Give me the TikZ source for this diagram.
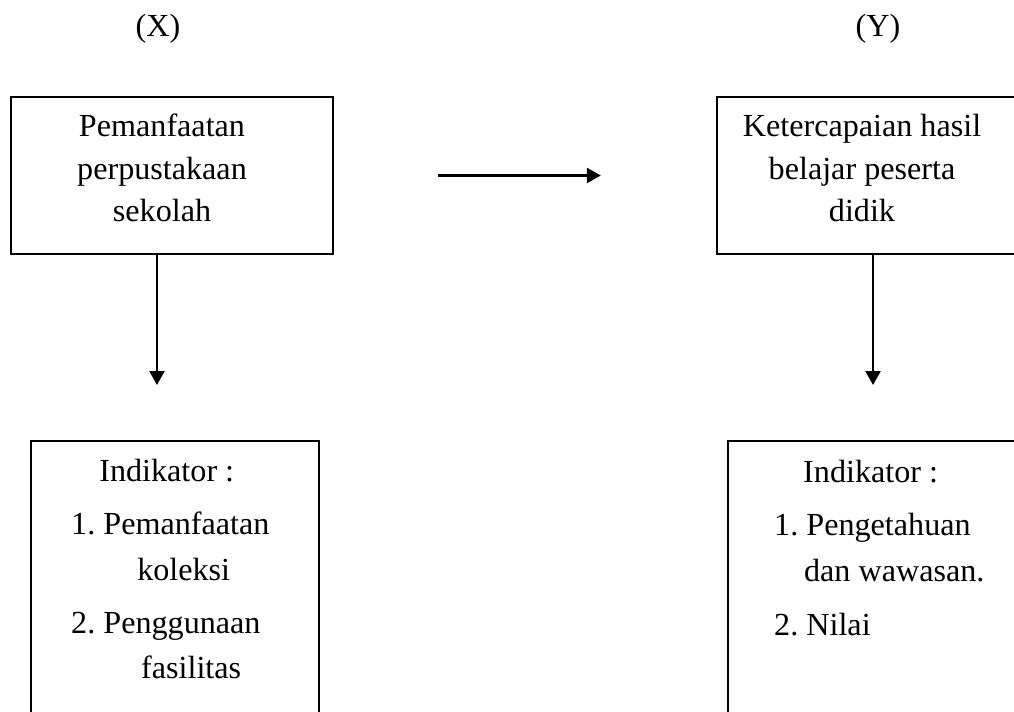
\documentclass[tikz,border=0pt]{standalone}
\usepackage{fontspec}
\setmainfont{Liberation Serif}
\frenchspacing
\usetikzlibrary{arrows.meta}

\begin{document}
\begin{tikzpicture}[x=0.02cm,y=-0.02cm,line width=1.4pt,
  every node/.style={font=\fontsize{18.3}{24.2}\selectfont,inner sep=0pt},
  kotak/.style={draw,line width=1.4pt},
  panah/.style={-{Triangle[length=0.28cm,width=0.3cm]},line width=1.4pt}]
\useasboundingbox (0,0) rectangle (1014,712);
\clip (0,0) rectangle (1014,712);

\node (X) [anchor=base] at (158,37) {(X)};
\node (Y) [anchor=base] at (878,37) {(Y)};

\node (kiri)[kotak,minimum width=6.44cm,minimum height=3.14cm] at (172,175.5) {};
\node (kanan)[kotak,minimum width=6.46cm,minimum height=3.14cm] at (878.5,175.5) {};
\node (indkiri)[kotak,minimum width=5.76cm,minimum height=6.38cm] at (175,600.5) {};
\node (indkanan)[kotak,minimum width=6.44cm,minimum height=6.38cm] at (889,600.5) {};

% base = baseline of the last line
\node (tkiri)[anchor=base,align=center] at (162,222) {Pemanfaatan\\perpustakaan\\sekolah};
\node (tkanan)[anchor=base,align=center] at (862,222) {Ketercapaian hasil\\belajar peserta\\didik};
\node (tindkiri)[anchor=base west,align=left] at (70,678)
  {\hspace*{16pt}Indikator :\\[6pt]1. Pemanfaatan\\[2pt]\hspace*{37.6pt}koleksi\\[6pt]2. Penggunaan\\[1pt]\hspace*{39.8pt}fasilitas};
\node (tindkanan)[anchor=base west,align=left] at (773,635)
  {\hspace*{16.5pt}Indikator :\\[6pt]1. Pengetahuan\\[2pt]\hspace*{17pt}dan wawasan.\\[6pt]2. Nilai};

\coordinate (ujungX) at (157,385);
\coordinate (ujungY) at (873,385);
\draw[panah] (kiri.south -| ujungX) -- (ujungX);
\draw[panah] (kanan.south -| ujungY) -- (ujungY);
\draw[panah,shorten <=2.08cm,shorten >=2.3cm] (kiri.east) -- (kanan.west);
\end{tikzpicture}
\end{document}
